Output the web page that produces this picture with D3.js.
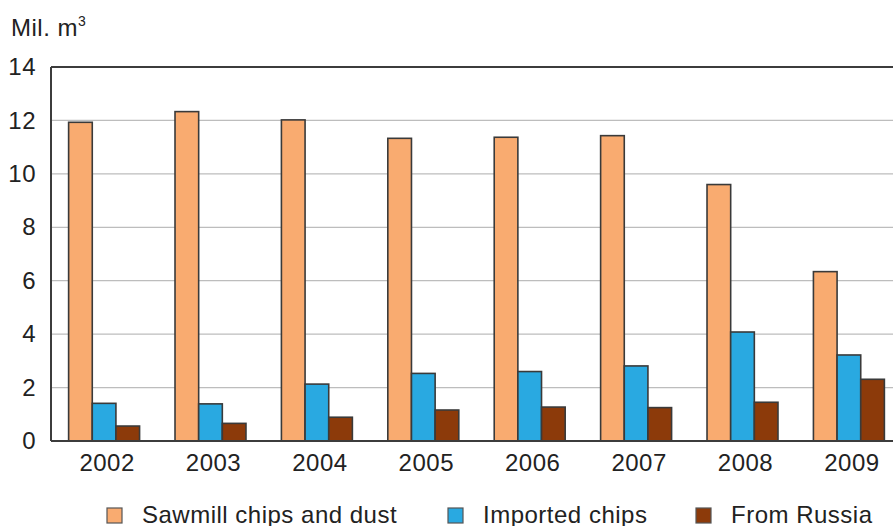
<!DOCTYPE html>
<html>
<head>
<meta charset="utf-8">
<script src="https://cdn.jsdelivr.net/npm/d3@7"></script>
<style>
  html, body { margin: 0; padding: 0; background: #fff; }
  svg { display: block; font-family: "Liberation Sans", Arial, sans-serif; }
</style>
</head>
<body>
<svg id="chart" width="893" height="526"></svg>
<script>
// Wood chip volumes by source, million cubic metres
const years = ["2002", "2003", "2004", "2005", "2006", "2007", "2008", "2009"];
const seriesNames = ["Sawmill chips and dust", "Imported chips", "From Russia"];
const sawmill = [11.93, 12.33, 12.02, 11.33, 11.37, 11.43, 9.6, 6.34];
const imported = [1.41, 1.39, 2.13, 2.53, 2.6, 2.81, 4.08, 3.22];
const russia = [0.56, 0.66, 0.89, 1.16, 1.27, 1.25, 1.45, 2.31];
const yTicks = [0, 2, 4, 6, 8, 10, 12, 14];
const colors = ["#F9AB70", "#29A9E1", "#8C3A0A"];

const seriesValues = [sawmill, imported, russia];
const rows = years.map((yr, i) => ({ year: yr, values: seriesValues.map(s => s[i]) }));

const svg = d3.select("#chart");
const plotLeft = 51, plotRight = 902, plotTop = 67, plotBottom = 441;
const fontSize = 24, spacing = 0.5, textColor = "#222";

const x = d3.scaleBand().domain(years).range([plotLeft, plotRight])
  .paddingInner(0.333).paddingOuter(0.1655);
const xSub = d3.scaleBand().domain(d3.range(seriesNames.length)).range([0, x.bandwidth()]);
const y = d3.scaleLinear().domain([0, 14]).range([plotBottom, plotTop]);

// horizontal gridlines
svg.append("g")
  .selectAll("line")
  .data(yTicks.filter(t => t > 0 && t < 14))
  .join("line")
  .attr("x1", plotLeft).attr("x2", plotRight)
  .attr("y1", d => y(d)).attr("y2", d => y(d))
  .attr("stroke", "#bdbdbd").attr("stroke-width", 1.3);

// bars
const groups = svg.append("g").selectAll("g")
  .data(rows).join("g")
  .attr("transform", d => `translate(${x(d.year)},0)`);

groups.selectAll("rect")
  .data(d => d.values.map((v, k) => ({ v, k })))
  .join("rect")
  .attr("x", d => xSub(d.k))
  .attr("y", d => y(d.v))
  .attr("width", xSub.bandwidth())
  .attr("height", d => y(0) - y(d.v))
  .attr("fill", d => colors[d.k])
  .attr("stroke", "#3a3a3a").attr("stroke-width", 1.6);

// frame: left axis, top and bottom rules
const frame = svg.append("g").attr("stroke", "#3c3c3c").attr("stroke-width", 2).attr("fill", "none");
frame.append("line").attr("x1", plotLeft).attr("x2", plotLeft).attr("y1", plotTop).attr("y2", plotBottom);
frame.append("line").attr("x1", plotLeft).attr("x2", plotRight).attr("y1", y(14)).attr("y2", y(14));
frame.append("line").attr("x1", plotLeft).attr("x2", plotRight).attr("y1", y(0)).attr("y2", y(0));

// y tick labels
const yAxis = d3.axisLeft(y).tickValues(yTicks).tickSize(0).tickPadding(15);
const gy = svg.append("g").attr("transform", `translate(${plotLeft},0)`).call(yAxis);
gy.select(".domain").remove();
gy.selectAll("text").attr("font-size", fontSize).attr("fill", textColor)
  .attr("letter-spacing", spacing)
  .attr("font-family", "Liberation Sans, Arial, sans-serif");

// x tick labels, nudged slightly right of the group centre
const xAxis = d3.axisBottom(x).tickSize(0).tickPadding(13);
const gx = svg.append("g").attr("transform", `translate(0,${plotBottom})`).call(xAxis);
gx.select(".domain").remove();
gx.selectAll("text").attr("font-size", fontSize).attr("fill", textColor)
  .attr("letter-spacing", spacing).attr("dx", 3)
  .attr("font-family", "Liberation Sans, Arial, sans-serif");

// unit label
const unit = svg.append("text").attr("x", 11).attr("y", 36)
  .attr("font-size", fontSize).attr("letter-spacing", spacing).attr("fill", textColor);
unit.append("tspan").text("Mil. m");
unit.append("tspan").attr("font-size", 14).attr("dy", -10).text("3");

// legend
const legendX = [107, 448, 696];
const legend = svg.append("g").selectAll("g")
  .data(seriesNames).join("g")
  .attr("transform", (d, i) => `translate(${legendX[i]},508)`);
legend.append("rect")
  .attr("width", 15).attr("height", 15)
  .attr("fill", (d, i) => colors[i])
  .attr("stroke", "#555").attr("stroke-width", 1.2);
legend.append("text")
  .attr("x", 35).attr("y", 14.5)
  .attr("font-size", fontSize).attr("letter-spacing", spacing).attr("fill", textColor)
  .text(d => d);
</script>
</body>
</html>
